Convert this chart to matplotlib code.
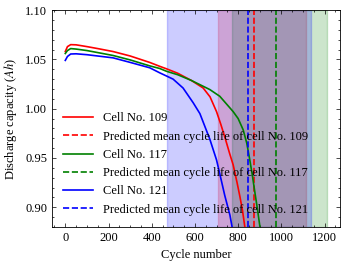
import matplotlib
matplotlib.use('Agg')
import matplotlib.pyplot as plt
from matplotlib.ticker import MultipleLocator

plt.rcParams['font.family'] = ['Liberation Serif', 'DejaVu Serif']
plt.rcParams['mathtext.fontset'] = 'stix'
plt.rcParams['font.size'] = 9
plt.rcParams['axes.linewidth'] = 0.6
for ax_ in ['xtick', 'ytick']:
    plt.rcParams[ax_ + '.direction'] = 'in'
    plt.rcParams[ax_ + '.major.size'] = 3
    plt.rcParams[ax_ + '.minor.size'] = 1.5
    plt.rcParams[ax_ + '.major.width'] = 0.5
    plt.rcParams[ax_ + '.minor.width'] = 0.5
plt.rcParams['xtick.top'] = True
plt.rcParams['ytick.right'] = True

# cell 109
cyc_109 = [0, 10, 25, 50, 100, 150, 221, 300, 390, 437, 468, 520, 584, 638, 670,
           700, 720, 740, 760, 777, 795, 808, 820, 831, 835]
cap_109 = [1.058, 1.063, 1.065, 1.0648, 1.063, 1.061, 1.058, 1.0535, 1.047, 1.043,
           1.0405, 1.036, 1.0286, 1.021, 1.012, 0.997, 0.984, 0.970, 0.955, 0.943,
           0.925, 0.911, 0.897, 0.880, 0.874]
# cell 117
cyc_117 = [0, 10, 25, 50, 100, 221, 300, 390, 437, 468, 520, 584, 669, 715, 762,
           777, 800, 823, 840, 854, 866, 878, 890, 901, 905]
cap_117 = [1.056, 1.059, 1.061, 1.0605, 1.059, 1.054, 1.0495, 1.0435, 1.0408, 1.038,
           1.0345, 1.0286, 1.0194, 1.0126, 1.0008, 0.997, 0.990, 0.9787, 0.965,
           0.948, 0.932, 0.9144, 0.897, 0.880, 0.874]
# cell 121
cyc_121 = [0, 10, 25, 50, 100, 221, 300, 391, 437, 470, 499, 545, 592, 623, 669,
           700, 715, 738, 762, 772, 776]
cap_121 = [1.049, 1.053, 1.0555, 1.0557, 1.0548, 1.0516, 1.047, 1.0415, 1.0364,
           1.033, 1.030, 1.021, 1.006, 0.995, 0.969, 0.948, 0.934, 0.912, 0.892,
           0.880, 0.874]

cells = ['109', '117', '121']
colors = ['r', 'g', 'b']
pred_mean = [873, 975, 846]
pred_low = [707, 772, 470]
pred_high = [1114, 1212, 1136]

fig = plt.figure(figsize=(3.46, 2.67), dpi=100)
ax = fig.add_axes([0.150, 0.150, 0.833, 0.812])

for lo, hi, c in zip(pred_low, pred_high, colors):
    ax.axvspan(lo, hi, color=c, alpha=0.2)

data = [(cyc_109, cap_109), (cyc_117, cap_117), (cyc_121, cap_121)]
for (x, y), name, c, m in zip(data, cells, colors, pred_mean):
    ax.plot(x, y, color=c, lw=1.2, label='Cell No. ' + name)
    ax.axvline(m, color=c, ls='--', lw=1.2,
               label='Predicted mean cycle life of cell No. ' + name)

ax.set_xlim(-62, 1272)
ax.set_ylim(0.88, 1.10)
ax.xaxis.set_major_locator(MultipleLocator(200))
ax.xaxis.set_minor_locator(MultipleLocator(50))
ax.yaxis.set_major_locator(MultipleLocator(0.05))
ax.yaxis.set_minor_locator(MultipleLocator(0.01))
ax.yaxis.set_major_formatter(plt.FormatStrFormatter('%.2f'))
ax.set_xlabel('Cycle number')
ax.set_ylabel('Discharge capacity ($Ah$)')
ax.legend(loc='lower left', frameon=False, handlelength=2.4)

plt.savefig('out.png', dpi=100)
